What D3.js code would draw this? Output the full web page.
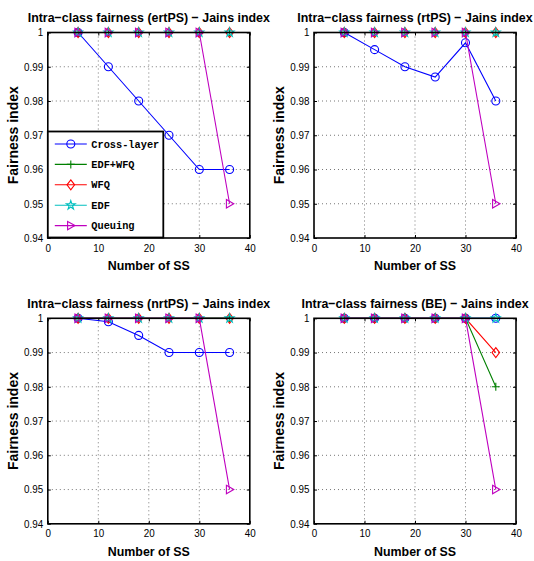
<!DOCTYPE html>
<html>
<head>
<meta charset="utf-8">
<script src="https://cdn.jsdelivr.net/npm/d3@7"></script>
<style>
  body { margin: 0; background: #fff; }
  svg { display: block; }
  text { font-family: "Liberation Sans", Arial, sans-serif; fill: #000; }
  text.legtxt { font-family: "Liberation Mono", "Courier New", monospace; }
</style>
</head>
<body>
<svg id="chart"></svg>
<script>
// data
var xVals = [6, 12, 18, 24, 30, 36];
var seriesNames = ["Cross-layer", "EDF+WFQ", "WFQ", "EDF", "Queuing"];
var seriesColors = ["#0000ff", "#008000", "#ff0000", "#00bfbf", "#bf00bf"];
var xTicks = [0, 10, 20, 30, 40];
var yTicks = [0.94, 0.95, 0.96, 0.97, 0.98, 0.99, 1];

// ertPS
var ertpsCross   = [1, 0.99, 0.98, 0.97, 0.96, 0.96];
var ertpsEdfWfq  = [1, 1, 1, 1, 1, 1];
var ertpsWfq     = [1, 1, 1, 1, 1, 1];
var ertpsEdf     = [1, 1, 1, 1, 1, 1];
var ertpsQueuing = [1, 1, 1, 1, 1, 0.95];
// rtPS
var rtpsCross   = [1, 0.995, 0.99, 0.987, 0.997, 0.98];
var rtpsEdfWfq  = [1, 1, 1, 1, 1, 1];
var rtpsWfq     = [1, 1, 1, 1, 1, 1];
var rtpsEdf     = [1, 1, 1, 1, 1, 1];
var rtpsQueuing = [1, 1, 1, 1, 1, 0.95];
// nrtPS
var nrtpsCross   = [1, 0.999, 0.995, 0.99, 0.99, 0.99];
var nrtpsEdfWfq  = [1, 1, 1, 1, 1, 1];
var nrtpsWfq     = [1, 1, 1, 1, 1, 1];
var nrtpsEdf     = [1, 1, 1, 1, 1, 1];
var nrtpsQueuing = [1, 1, 1, 1, 1, 0.95];
// BE
var beCross   = [1, 1, 1, 1, 1, 1];
var beEdfWfq  = [1, 1, 1, 1, 1, 0.98];
var beWfq     = [1, 1, 1, 1, 1, 0.99];
var beEdf     = [1, 1, 1, 1, 1, 1];
var beQueuing = [1, 1, 1, 1, 1, 0.95];

var svgWidth = 534, svgHeight = 561;
var W = 202, H = 205.5;

var panels = [
  {title: "Intra\u2212class fairness (ertPS) \u2212 Jains index", left: 47.8, top: 32.5,
   series: [ertpsCross, ertpsEdfWfq, ertpsWfq, ertpsEdf, ertpsQueuing], legend: true},
  {title: "Intra\u2212class fairness (rtPS) \u2212 Jains index", left: 314, top: 32.5,
   series: [rtpsCross, rtpsEdfWfq, rtpsWfq, rtpsEdf, rtpsQueuing]},
  {title: "Intra\u2212class fairness (nrtPS) \u2212 Jains index", left: 47.8, top: 318.3,
   series: [nrtpsCross, nrtpsEdfWfq, nrtpsWfq, nrtpsEdf, nrtpsQueuing]},
  {title: "Intra\u2212class fairness (BE) \u2212 Jains index", left: 314, top: 318.3,
   series: [beCross, beEdfWfq, beWfq, beEdf, beQueuing]}
];

// marker shapes (matlab style: o + d p >)
var markers = [
  "M4,0A4,4 0 1,1 -4,0A4,4 0 1,1 4,0Z",
  "M-4,0H4M0,-4V4",
  "M0,-5L3.8,0L0,5L-3.8,0Z",
  d3.symbol(d3.symbolStar, 24)(),
  "M-3.2,-4.2L4.2,0L-3.2,4.2Z"
];

var svg = d3.select("#chart")
  .attr("width", svgWidth)
  .attr("height", svgHeight);

var xScale = d3.scaleLinear().domain([0, 40]).range([0, W]);
var yScale = d3.scaleLinear().domain([0.94, 1]).range([H, 0]);

var fmtY = function (d) { return d === 1 ? "1" : d.toFixed(2); };

panels.forEach(function (p) {
  var g = svg.append("g").attr("transform", "translate(" + p.left + "," + p.top + ")");

  // grid
  g.append("g").selectAll("line")
    .data(xTicks.slice(1, -1))
    .enter().append("line")
    .attr("x1", function (d) { return xScale(d); })
    .attr("x2", function (d) { return xScale(d); })
    .attr("y1", 0).attr("y2", H)
    .attr("stroke", "#777").attr("stroke-width", 1)
    .attr("stroke-dasharray", "1,3");
  g.append("g").selectAll("line")
    .data(yTicks.slice(1, -1))
    .enter().append("line")
    .attr("y1", function (d) { return yScale(d); })
    .attr("y2", function (d) { return yScale(d); })
    .attr("x1", 0).attr("x2", W)
    .attr("stroke", "#777").attr("stroke-width", 1)
    .attr("stroke-dasharray", "1,3");

  // axes, ticks point inward
  var xAxis = d3.axisBottom(xScale).tickValues(xTicks).tickSizeInner(-3).tickSizeOuter(0).tickPadding(6);
  var yAxis = d3.axisLeft(yScale).tickValues(yTicks).tickFormat(fmtY).tickSizeInner(-3).tickSizeOuter(0).tickPadding(5);
  var xTop = d3.axisTop(xScale).tickValues(xTicks).tickSizeInner(-3).tickSizeOuter(0).tickFormat("");
  var yRight = d3.axisRight(yScale).tickValues(yTicks).tickSizeInner(-3).tickSizeOuter(0).tickFormat("");

  var gx = g.append("g").attr("transform", "translate(0," + H + ")").call(xAxis);
  var gy = g.append("g").call(yAxis);
  g.append("g").call(xTop);
  g.append("g").attr("transform", "translate(" + W + ",0)").call(yRight);
  g.selectAll(".domain").remove();
  g.selectAll(".tick line").attr("stroke", "#000");
  gx.selectAll("text").attr("font-size", "10.7px").attr("transform", "scale(0.92,1)");
  gy.selectAll("text").attr("font-size", "10.7px").attr("transform", "scale(0.92,1)");

  // series, Queuing drawn last
  var line = d3.line()
    .x(function (d, i) { return xScale(xVals[i]); })
    .y(function (d) { return yScale(d); });

  p.series.forEach(function (vals, si) {
    var s = g.append("g");
    s.append("path")
      .datum(vals)
      .attr("d", line)
      .attr("fill", "none")
      .attr("stroke", seriesColors[si])
      .attr("stroke-width", 1.1);
    s.selectAll("path.mk")
      .data(vals)
      .enter().append("path")
      .attr("class", "mk")
      .attr("d", markers[si])
      .attr("transform", function (d, i) { return "translate(" + xScale(xVals[i]) + "," + yScale(d) + ")"; })
      .attr("fill", "none")
      .attr("stroke", seriesColors[si])
      .attr("stroke-width", 1.1);
  });

  // box
  g.append("rect")
    .attr("width", W).attr("height", H)
    .attr("fill", "none").attr("stroke", "#000").attr("stroke-width", 1.6);

  // title
  g.append("text")
    .attr("transform", "translate(" + (W / 2) + ",-10.5) scale(0.92,1)")
    .attr("text-anchor", "middle")
    .attr("font-size", "13.5px").attr("font-weight", "bold")
    .text(p.title);

  // axis labels
  g.append("text")
    .attr("transform", "translate(" + (W / 2) + "," + (H + 32) + ") scale(0.92,1)")
    .attr("text-anchor", "middle")
    .attr("font-size", "13.5px").attr("font-weight", "bold")
    .text("Number of SS");
  g.append("text")
    .attr("transform", "translate(-30," + (H / 2) + ") rotate(-90)")
    .attr("text-anchor", "middle")
    .attr("font-size", "14px").attr("font-weight", "bold")
    .text("Fairness index");

  if (p.legend) {
    var lg = g.append("g").attr("transform", "translate(0," + (H - 106.5) + ")");
    lg.append("rect")
      .attr("width", 115.5).attr("height", 106)
      .attr("fill", "#fff").attr("stroke", "#000").attr("stroke-width", 1.8);
    seriesNames.forEach(function (name, si) {
      var yy = 12.5 + si * 20.4;
      lg.append("line")
        .attr("x1", 7).attr("x2", 39).attr("y1", yy).attr("y2", yy)
        .attr("stroke", seriesColors[si]).attr("stroke-width", 1.1);
      lg.append("path")
        .attr("d", markers[si])
        .attr("transform", "translate(23," + yy + ")")
        .attr("fill", "none").attr("stroke", seriesColors[si]).attr("stroke-width", 1.1);
      lg.append("text")
        .attr("class", "legtxt")
        .attr("x", 43.5).attr("y", yy).attr("dy", "0.35em")
        .attr("font-size", "10.3px").attr("font-weight", "bold")
        .text(name);
    });
  }
});
</script>
</body>
</html>
